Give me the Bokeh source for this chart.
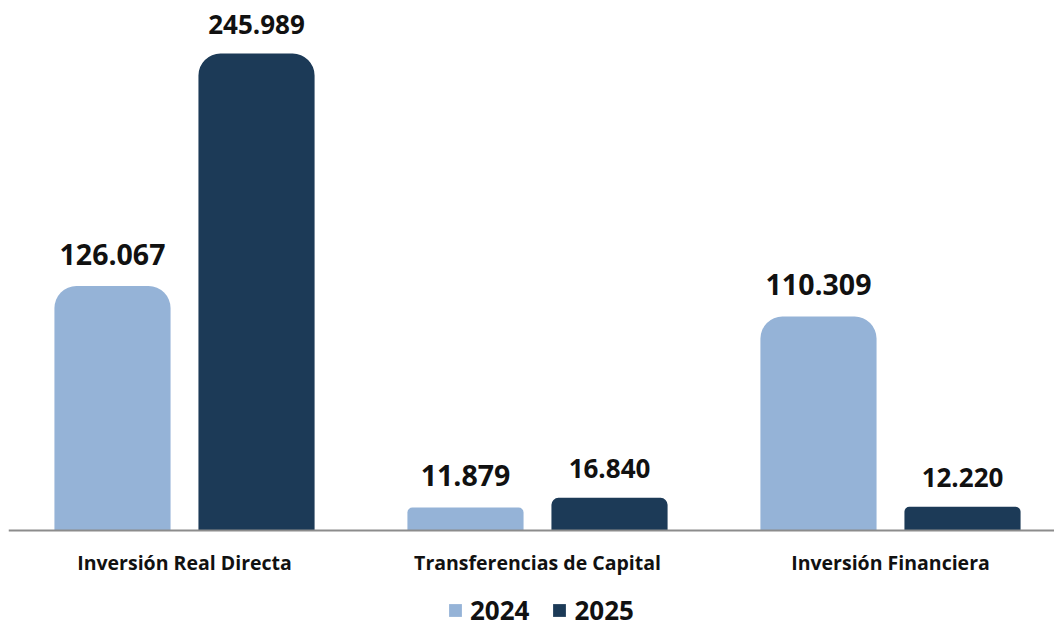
from bokeh.plotting import figure
from bokeh.models import ColumnDataSource, Legend, LegendItem, Range1d, Span
from bokeh.core.properties import value
from bokeh.embed import file_html
from bokeh.resources import INLINE

categories = ["Inversión Real Directa", "Transferencias de Capital", "Inversión Financiera"]
years = ["2024", "2025"]
v2024 = [126067, 11879, 110309]
v2025 = [245989, 16840, 12220]

C_LIGHT = "#95B3D7"
C_DARK = "#1C3A57"
FONT = "Open Sans"

def fmt(v):
    return f"{v:,}".replace(",", ".")

PX_PER_UNIT = 522 / 269200
Y_MAX = 269200
Y_MIN = -98 / PX_PER_UNIT
x = list(range(len(categories)))
off = 0.204
bw = 0.329

p = figure(frame_width=1046, frame_height=620, output_backend="svg", toolbar_location=None,
           x_range=Range1d(-0.4986, 2.4646), y_range=Range1d(Y_MIN, Y_MAX),
           min_border_left=8, min_border_right=0, min_border_top=8, min_border_bottom=0,
           outline_line_color=None, background_fill_color="white")
p.xaxis.visible = False
p.yaxis.visible = False
p.xgrid.visible = False
p.ygrid.visible = False

series = [(v2024, -off, C_LIGHT, "28.5px", -32), (v2025, off, C_DARK, "26px", -29)]
first_renderers = []
for vals, dx, col, fsize, yoff in series:
    first = None
    for i, v in enumerate(vals):
        h_px = v * PX_PER_UNIT
        rad = int(round(min(22, 0.2 * h_px)))
        src = ColumnDataSource(dict(x=[i + dx], top=[v]))
        r = p.vbar(x="x", top="top", bottom=0, width=bw, source=src, fill_color=col,
                   line_color=None, border_radius=(rad, rad, 0, 0))
        if first is None:
            first = r
    first_renderers.append(first)
    lab_src = ColumnDataSource(dict(x=[i + dx for i in x], top=vals, lab=[fmt(v) for v in vals]))
    p.text(x="x", y="top", text="lab", source=lab_src, text_align="center",
           text_baseline="alphabetic", y_offset=yoff, text_font=value(FONT),
           text_font_style="bold", text_font_size=fsize, text_color="#111111")

# baseline (category axis line)
p.add_layout(Span(location=0, dimension="width", line_color="#8C8C8C", line_width=2))

# category labels
cat_src = ColumnDataSource(dict(x=x, y=[0] * len(x), lab=categories))
p.text(x="x", y="y", text="lab", source=cat_src, text_align="center", text_baseline="middle",
       y_offset=32, text_font=value(FONT), text_font_style="bold", text_font_size="19.5px",
       text_color="#111111")

legend = Legend(items=[LegendItem(label=years[0], renderers=[first_renderers[0]]),
                       LegendItem(label=years[1], renderers=[first_renderers[1]])],
                orientation="horizontal", location=(439, 0),
                glyph_width=16, glyph_height=16, label_text_font=FONT,
                label_text_font_style="bold", label_text_font_size="26px",
                label_text_color="#111111", label_standoff=7, spacing=22,
                border_line_color=None, background_fill_alpha=0, padding=0, margin=0)
p.add_layout(legend, "center")

open("out.html", "w").write(file_html(p, INLINE))
